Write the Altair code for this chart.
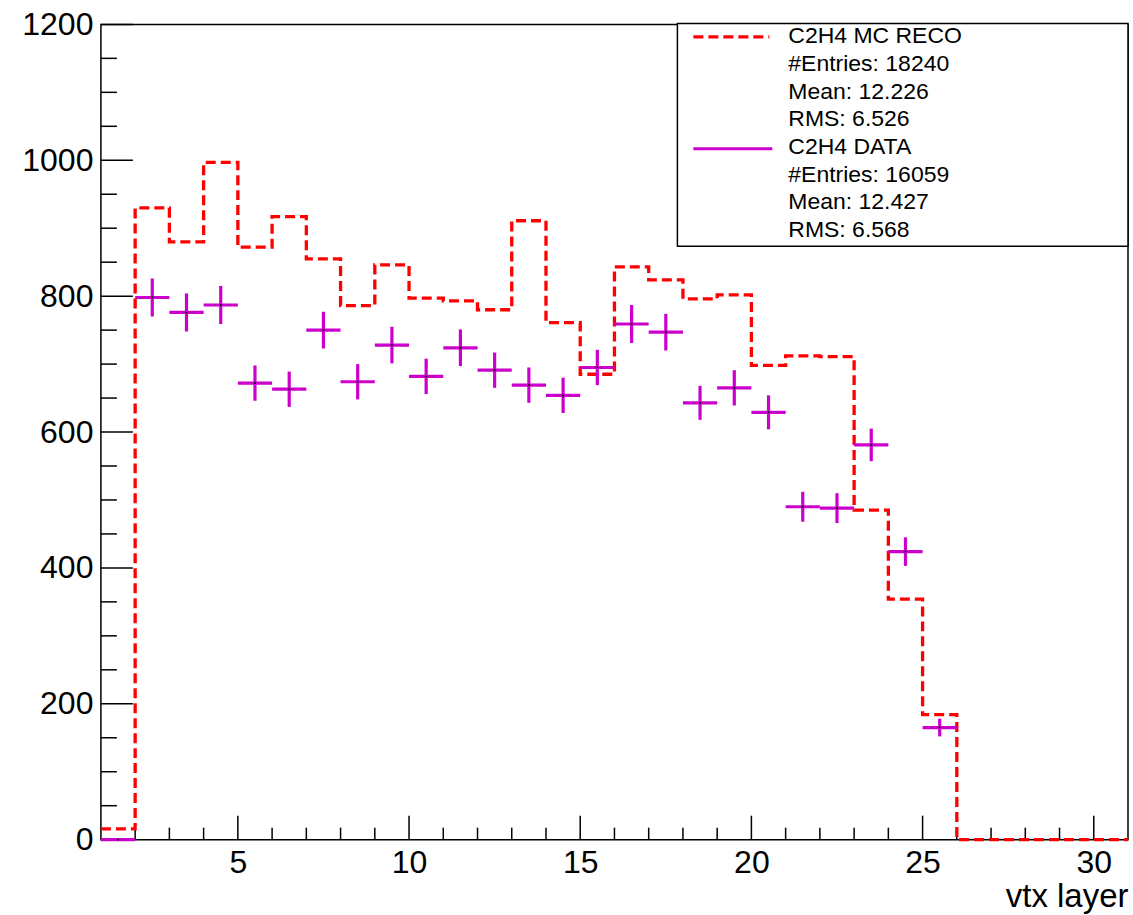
import altair as alt
import pandas as pd

# ---- histogram contents: vtx layer, 30 unit bins from 1 to 31 ----
bin_low = [1, 2, 3, 4, 5, 6, 7, 8, 9, 10, 11, 12, 13, 14, 15,
           16, 17, 18, 19, 20, 21, 22, 23, 24, 25, 26, 27, 28, 29, 30]

mc_reco = [16, 930, 880, 997, 872, 917, 855, 786, 846, 797, 793, 780, 911, 761, 685,
           843, 824, 796, 802, 698, 712, 711, 485, 354, 184, 0, 0, 0, 0, 0]

# data points (bins 1..25; empty bins above are not drawn)
data_low = [1, 2, 3, 4, 5, 6, 7, 8, 9, 10, 11, 12, 13,
            14, 15, 16, 17, 18, 19, 20, 21, 22, 23, 24, 25]
data_val = [0, 798, 776, 787, 672, 663, 750, 674, 728, 682, 724, 691, 669,
            654, 695, 759, 747, 643, 665, 629, 490, 488, 581, 424, 165]
data_err = [0, 28, 28, 28, 26, 26, 27, 26, 27, 26, 27, 26, 26,
            26, 26, 28, 27, 25, 26, 25, 22, 22, 24, 21, 13]

x_major = [5, 10, 15, 20, 25, 30]
x_minor = [2, 3, 4, 6, 7, 8, 9, 11, 12, 13, 14, 16, 17, 18, 19,
           21, 22, 23, 24, 26, 27, 28, 29]
y_major = [0, 200, 400, 600, 800, 1000, 1200]
y_minor = [50, 100, 150, 250, 300, 350, 450, 500, 550, 650, 700, 750,
           850, 900, 950, 1050, 1100, 1150]

legend_lines = ["C2H4 MC RECO", "#Entries: 18240", "Mean: 12.226", "RMS: 6.526",
                "C2H4 DATA", "#Entries: 16059", "Mean: 12.427", "RMS: 6.568"]

x_title = "vtx layer"

# ---- layout ----
W, H = 1028, 816
FONT = "Liberation Sans"
RED = "#ff0000"
MAGENTA = "#cc00cc"

xscale = alt.Scale(domain=[1, 31], nice=False, zero=False)
yscale = alt.Scale(domain=[0, 1200], nice=False, zero=True)

x_axis = alt.Axis(values=x_major, format="d", ticks=False, domain=False, grid=False,
                  labelFont=FONT, labelFontSize=32, labelColor="black", labelPadding=8,
                  title=x_title, titleFont=FONT, titleFontSize=33, titleFontWeight="normal",
                  titleColor="black", titleAnchor="end", titleAlign="right",
                  titleBaseline="alphabetic", titleX=W, titleY=67)
y_axis = alt.Axis(values=y_major, format="d", ticks=False, domain=False, grid=False,
                  labelFont=FONT, labelFontSize=32, labelColor="black", labelPadding=8,
                  title=None)

# MC histogram outline
mc_df = pd.DataFrame({"edge": bin_low + [bin_low[-1] + 1],
                      "count": mc_reco + [mc_reco[-1]]})
mc_line = alt.Chart(mc_df).mark_line(
    interpolate="step-after", color=RED, strokeWidth=3.3, strokeDash=[10, 5]
).encode(
    x=alt.X("edge:Q", scale=xscale, axis=x_axis),
    y=alt.Y("count:Q", scale=yscale, axis=y_axis),
    order="edge:Q",
)

# data points with bin-width and statistical error bars
pts = pd.DataFrame({"lo": data_low, "val": data_val, "err": data_err})
pts["hi"] = pts["lo"] + 1
pts["mid"] = pts["lo"] + 0.5
pts["ylo"] = pts["val"] - pts["err"]
pts["yhi"] = pts["val"] + pts["err"]

hbar = alt.Chart(pts).mark_rule(color=MAGENTA, strokeWidth=3.2).encode(
    x=alt.X("lo:Q", scale=xscale), x2="hi:Q", y=alt.Y("val:Q", scale=yscale))
vbar = alt.Chart(pts).mark_rule(color=MAGENTA, strokeWidth=3.2).encode(
    x=alt.X("mid:Q", scale=xscale), y=alt.Y("ylo:Q", scale=yscale), y2="yhi:Q")
dots = alt.Chart(pts).mark_square(color="black", size=3, opacity=1).encode(
    x=alt.X("mid:Q", scale=xscale), y=alt.Y("val:Q", scale=yscale))

# inward-pointing axis ticks
def xticks(vals, length):
    return alt.Chart(pd.DataFrame({"v": vals})).mark_rule(
        color="black", strokeWidth=1.5).encode(
        x=alt.X("v:Q", scale=xscale), y=alt.value(H), y2=alt.value(H - length))

def yticks(vals, length):
    return alt.Chart(pd.DataFrame({"v": vals})).mark_rule(
        color="black", strokeWidth=1.5).encode(
        y=alt.Y("v:Q", scale=yscale), x=alt.value(0), x2=alt.value(length))

# statistics box
box = alt.Chart(pd.DataFrame({"a": [0]})).mark_rect(
    fill="white", stroke="black", strokeWidth=1.5).encode(
    x=alt.value(577), x2=alt.value(1028), y=alt.value(-1), y2=alt.value(222))

sym_mc = alt.Chart(pd.DataFrame({"a": [0]})).mark_rule(
    color=RED, strokeWidth=3.3, strokeDash=[10, 5]).encode(
    x=alt.value(593), x2=alt.value(669), y=alt.value(12.5))
sym_data = alt.Chart(pd.DataFrame({"a": [0]})).mark_rule(
    color=MAGENTA, strokeWidth=3.2).encode(
    x=alt.value(593), x2=alt.value(672), y=alt.value(124.5))

texts = []
for i, line in enumerate(legend_lines):
    texts.append(
        alt.Chart(pd.DataFrame({"t": [line]})).mark_text(
            align="left", baseline="middle", font=FONT, fontSize=23, color="black"
        ).encode(text="t:N", x=alt.value(688), y=alt.value(12 + i * 27.7))
    )

chart = alt.layer(
    xticks(x_major, 24), xticks(x_minor, 12),
    yticks(y_major, 32), yticks(y_minor, 16),
    mc_line, hbar, vbar, dots,
    box, sym_mc, sym_data, *texts,
).properties(
    width=W, height=H,
    autosize=alt.AutoSizeParams(type="none"),
    padding={"left": 101, "top": 24, "right": 5, "bottom": 75},
    background="white",
).configure_view(
    stroke="black", strokeWidth=1.5
)

chart.save("out.html", embed_options={"renderer": "svg", "actions": False})
